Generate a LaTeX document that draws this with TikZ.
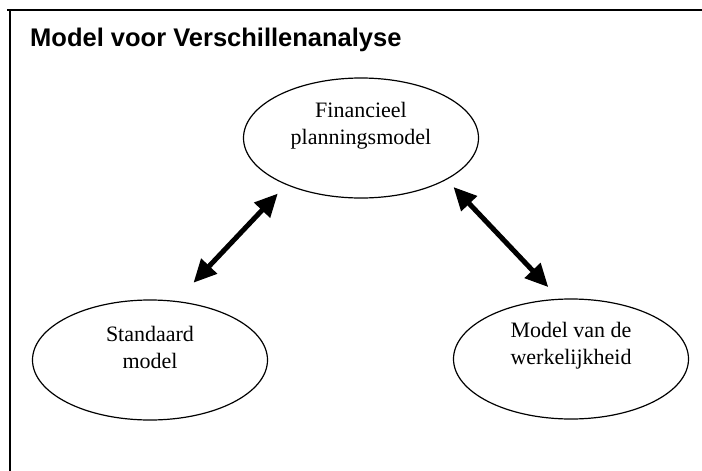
\documentclass[tikz,border=0pt]{standalone}
\usepackage{fontspec}
\setmainfont{Liberation Serif}
\newfontfamily\kopfont{Liberation Sans}
\usetikzlibrary{arrows.meta, positioning, shapes.geometric}

\tikzset{
  ovaal/.style={draw, ellipse, line width=1.2pt, inner sep=0pt,
                minimum width=235pt, minimum height=120pt},
  ovaaltekst/.style={align=center, font=\fontsize{22}{27}\selectfont},
  pijl/.style={{Triangle[length=23pt, width=21pt]}-{Triangle[length=23pt, width=21pt]},
               line width=5pt}
}

\begin{document}
\begin{tikzpicture}[x=1pt, y=-1pt]
        \useasboundingbox (0,0) rectangle (702,471);
        % ---- kader (boven en links) ----
        \draw[line width=1.8pt] (7,10) -- (702,10);
        \draw[line width=1.5pt] (10,10) -- (10,471);
        % titel
        \node[anchor=base west, inner sep=0pt,
              font=\kopfont\bfseries\fontsize{25.5}{30}\selectfont]
              (titel) at (30,46) {Model voor Verschillenanalyse};

        % ---- de drie modellen ----
        \node[ovaal] (plan) at (361,138) {};
        \node[ovaal] (std)  at (150,360) {};
        \node[ovaal] (werk) at (571,359) {};
        \node[ovaaltekst] (plantekst) at (361,126) {Financieel\\planningsmodel};
        \node[ovaaltekst] (stdtekst)  at (150,347) {Standaard\\model};
        \node[ovaaltekst] (werktekst) at (571,346) {Model van de\\werkelijkheid};

        % ---- dubbele pijlen ----
        \draw[pijl, shorten <=25pt, shorten >=12pt] (std.66) -- (plan.212);
        \draw[pijl, shorten <=10pt, shorten >=16pt] (plan.334) -- (werk.101);
\end{tikzpicture}
\end{document}
